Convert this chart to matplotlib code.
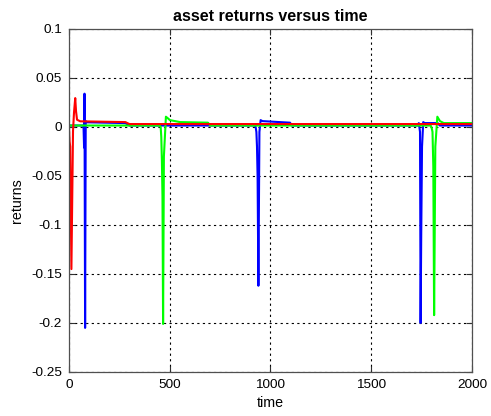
import numpy as np
import matplotlib
matplotlib.use('Agg')
import matplotlib.pyplot as plt

# (time, return) breakpoints
red_t = [0, 3, 6, 12, 20, 25, 31, 35, 40, 56, 280, 300, 2000]
red_r = [0.0, -0.015, -0.02, -0.145, -0.004, 0.015, 0.0295, 0.016, 0.0074, 0.0058, 0.005, 0.003, 0.003]

blue_t = [0, 72, 75, 77, 80, 83, 90, 280, 300, 925, 930, 933, 936, 940, 945, 951, 960, 1097, 1105,
          1730, 1736, 1742, 1745, 1748, 1752, 1758, 1765, 1830, 1840, 2000]
blue_r = [0.0015, 0.0015, -0.021, 0.034, -0.205, 0.006, 0.0048, 0.004, 0.0015, 0.0015, -0.005, -0.02, -0.05,
          -0.162, -0.005, 0.007, 0.006, 0.0044, 0.0015,
          0.0015, 0.004, -0.005, -0.2, -0.11, -0.02, 0.005, 0.004, 0.004, 0.0015, 0.0015]

green_t = [0, 450, 455, 458, 461, 464, 467, 471, 481, 490, 501, 551, 690, 700,
           1795, 1800, 1804, 1808, 1812, 1818, 1828, 1841, 1860, 2000]
green_r = [0.0015, 0.0015, 0.0, -0.01, -0.034, -0.071, -0.201, -0.03, 0.0105, 0.009, 0.007, 0.005, 0.0044, 0.0015,
           0.0015, -0.001, -0.005, -0.04, -0.192, -0.02, 0.0105, 0.006, 0.004, 0.004]

x_ticks = [0, 500, 1000, 1500, 2000]
y_ticks = [0.1, 0.05, 0, -0.05, -0.1, -0.15, -0.2, -0.25]
y_tick_labels = ['0.1', '0.05', '0', '-0.05', '-0.1', '-0.15', '-0.2', '-0.25']

plt.rcParams['font.family'] = ['Liberation Sans', 'DejaVu Sans']

fig = plt.figure(figsize=(4.91, 4.16), dpi=100)
ax = fig.add_axes([0.1405, 0.1058, 0.8208, 0.8245])

ax.plot(blue_t, blue_r, color='#0000ff', lw=1.5)
ax.plot(green_t, green_r, color='#00ff00', lw=1.5)
ax.plot(red_t, red_r, color='#ff0000', lw=1.5)

ax.set_xlim(0, 2000)
ax.set_ylim(-0.25, 0.1)
ax.set_xticks(x_ticks)
ax.set_xticklabels([str(v) for v in x_ticks])
ax.set_yticks(y_ticks)
ax.set_yticklabels(y_tick_labels)
ax.grid(True, color='black', linestyle=(0, (2, 3)), lw=0.8)
ax.tick_params(direction='in', length=4, width=0.8, labelsize=9.7, pad=5,
               top=True, right=True, colors='#303030')
ax.tick_params(labelcolor='black')
for s in ax.spines.values():
    s.set_color('#505050')
    s.set_linewidth(0.9)

ax.set_title('asset returns versus time', fontsize=11.5, fontweight='bold', pad=6)
ax.set_xlabel('time', fontsize=10.3, labelpad=4)
ax.set_ylabel('returns', fontsize=10.3, labelpad=5)

fig.savefig('out.png', dpi=100)
